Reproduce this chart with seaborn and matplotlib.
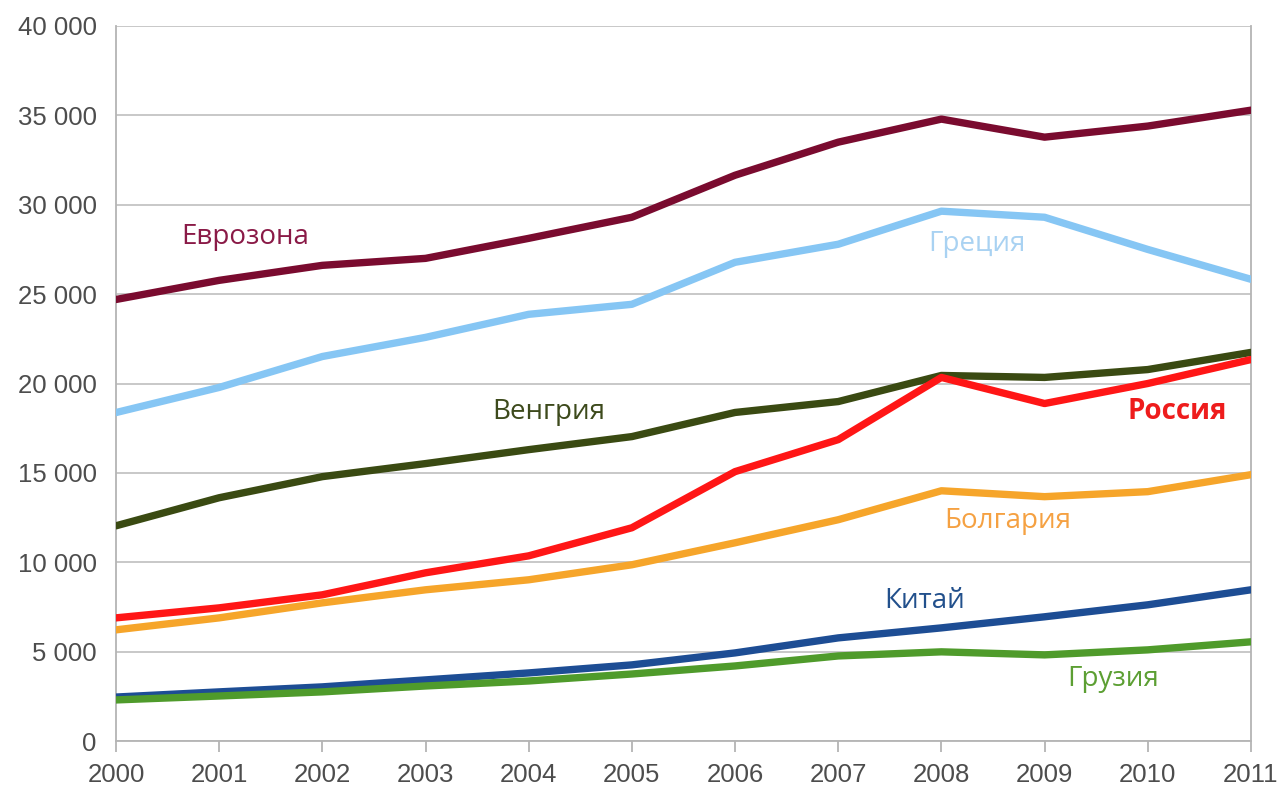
import pandas as pd
import matplotlib
matplotlib.use("Agg")
import matplotlib.pyplot as plt
import seaborn as sns
from matplotlib.ticker import FuncFormatter, MultipleLocator

years = list(range(2000, 2012))

eurozone = [24700, 25770, 26610, 27000, 28120, 29300, 31650, 33500, 34790, 33780, 34400, 35290]
greece = [18375, 19780, 21510, 22580, 23870, 24430, 26780, 27790, 29640, 29300, 27500, 25830]
hungary = [12040, 13610, 14790, 15520, 16300, 17030, 18380, 18990, 20450, 20340, 20780, 21740]
russia = [6890, 7450, 8180, 9410, 10360, 11930, 15070, 16860, 20340, 18880, 20000, 21340]
bulgaria = [6220, 6890, 7730, 8460, 9020, 9860, 11090, 12380, 14000, 13670, 13950, 14900]
china = [2460, 2750, 3030, 3420, 3810, 4260, 4930, 5770, 6330, 6950, 7620, 8460]
georgia = [2300, 2520, 2750, 3080, 3360, 3750, 4200, 4760, 4990, 4820, 5100, 5550]

series_names = ["Еврозона", "Греция", "Венгрия", "Россия", "Болгария", "Китай", "Грузия"]
series_values = [eurozone, greece, hungary, russia, bulgaria, china, georgia]
line_colors = ["#7a0b2f", "#86c6f4", "#3a4a12", "#ff1616", "#f6a52a", "#1d4d94", "#4f9b2b"]
label_colors = ["#8a1a47", "#a9d2f2", "#3d4a1c", "#ee1c1c", "#f5a142", "#22508c", "#5c9f33"]
# label anchor (year, value) and weight
label_pos = [(2001.25, 28180), (2008.34, 27790), (2004.19, 18430), (2010.29, 18430),
             (2008.64, 12320), (2007.84, 7840), (2009.66, 3470)]
label_bold = [False, False, False, True, False, False, False]

rows = []
for name, vals in zip(series_names, series_values):
    for y, v in zip(years, vals):
        rows.append({"year": y, "value": v, "series": name})
df = pd.DataFrame(rows)

sns.set_style("white")
plt.rcParams["font.family"] = ["Liberation Sans", "DejaVu Sans"]

fig = plt.figure(figsize=(12.83, 7.87), dpi=100)
ax = fig.add_axes([0.0904, 0.0584, 0.8846, 0.9086])

sns.lineplot(data=df, x="year", y="value", hue="series", hue_order=series_names,
             palette=dict(zip(series_names, line_colors)), linewidth=5.3,
             legend=False, ax=ax, zorder=3)

for name, (lx, ly), c, b in zip(series_names, label_pos, label_colors, label_bold):
    ax.text(lx, ly, name, color=c, fontsize=20, ha="center", va="center",
            fontweight="bold" if b else "normal", family=["Open Sans", "DejaVu Sans"])

ax.set_xlim(2000, 2011)
ax.set_ylim(0, 40000)
ax.set_xticks(years)
ax.yaxis.set_major_locator(MultipleLocator(5000))
ax.yaxis.set_major_formatter(FuncFormatter(lambda v, p: f"{int(v):,}".replace(",", " ")))
ax.grid(axis="y", color="#c4c4c4", linewidth=1.3, zorder=0)
ax.set_xlabel("")
ax.set_ylabel("")

for side in ["top"]:
    ax.spines[side].set_visible(False)
for side in ["left", "right", "bottom"]:
    ax.spines[side].set_color("#b4b4b4")
    ax.spines[side].set_linewidth(1.3)

ax.tick_params(axis="y", length=12, width=1.3, color="#c4c4c4", labelsize=18.5,
               labelcolor="#4d4d4d", pad=2)
ax.tick_params(axis="x", length=8, width=1.3, color="#b4b4b4", labelsize=18.5,
               labelcolor="#4d4d4d", pad=8, bottom=True)

fig.savefig("out.png", dpi=100)
